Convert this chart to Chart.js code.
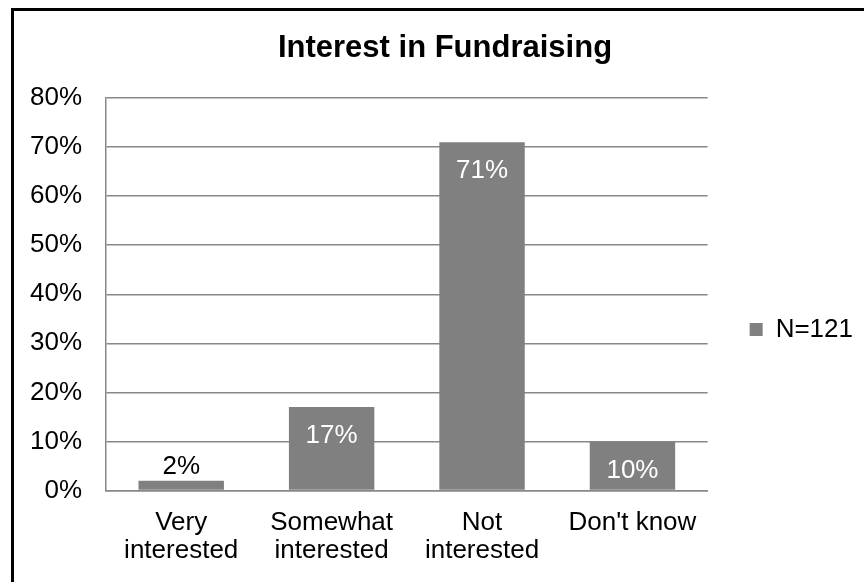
<!DOCTYPE html>
<html>
<head>
<meta charset="utf-8">
<script src="https://cdn.jsdelivr.net/npm/chart.js@4/dist/chart.umd.min.js"></script>
<style>
  html, body { margin: 0; padding: 0; background: #fff; }
  #wrap { position: relative; width: 864px; height: 582px; overflow: hidden; }
  #frame { position: absolute; left: 11px; top: 8px; width: 900px; height: 600px;
           border-top: 3px solid #000; border-left: 3px solid #000; pointer-events: none; }
</style>
</head>
<body>
<div id="wrap">
  <canvas id="chart" width="864" height="582"></canvas>
  <div id="frame"></div>
</div>
<script>
// categories (two lines each) and percentages
var categories = [['Very', 'interested'], ['Somewhat', 'interested'], ['Not', 'interested'], ["Don't know"]];
var percents = [2, 17, 71, 10];
var seriesName = 'N=121';
var yTicks = [0, 10, 20, 30, 40, 50, 60, 70, 80];

var gray = '#808080';
var gridGray = '#888888';
var font = '"Liberation Sans", Arial, sans-serif';

// value labels: white inside tall bars, black above short ones
var barLabels = {
  id: 'barLabels',
  afterDatasetsDraw: function(chart) {
    var ctx = chart.ctx;
    var meta = chart.getDatasetMeta(0);
    ctx.save();
    ctx.font = '26px ' + font;
    ctx.textAlign = 'center';
    ctx.textBaseline = 'middle';
    meta.data.forEach(function(bar, i) {
      var v = chart.data.datasets[0].data[i];
      if (v < 5) {
        ctx.fillStyle = '#000';
        ctx.fillText(v + '%', bar.x, bar.y - 14);
      } else {
        ctx.fillStyle = '#fff';
        ctx.fillText(v + '%', bar.x, bar.y + 29);
      }
    });
    ctx.restore();
  }
};

new Chart(document.getElementById('chart').getContext('2d'), {
  type: 'bar',
  data: {
    labels: categories,
    datasets: [{
      label: seriesName,
      data: percents,
      backgroundColor: gray,
      borderWidth: 0,
      barPercentage: 0.568,
      categoryPercentage: 1
    }]
  },
  options: {
    responsive: false,
    animation: false,
    layout: { padding: { top: 0, left: 27, right: 1, bottom: 0 } },
    plugins: {
      title: {
        display: true,
        text: 'Interest in Fundraising',
        color: '#000',
        font: { family: font, size: 31, weight: 'bold', lineHeight: 1.2 },
        padding: { top: 30, bottom: 30.8 }
      },
      legend: {
        position: 'right',
        title: { display: true, text: '', font: { size: 1, lineHeight: 1 }, padding: { top: 76, bottom: 0 } },
        labels: {
          color: '#000',
          font: { family: font, size: 26 },
          boxWidth: 13,
          boxHeight: 13,
          padding: 42
        }
      },
      tooltip: { enabled: false }
    },
    scales: {
      x: {
        grid: { display: false, drawTicks: false },
        border: { display: true, color: gridGray, width: 1.5 },
        ticks: { color: '#000', font: { family: font, size: 26, lineHeight: 1.08 }, padding: 18, maxRotation: 0 },
        afterFit: function(s) { s.height = 91.5; }
      },
      y: {
        min: 0,
        max: 80,
        afterBuildTicks: function(s) { s.ticks = yTicks.map(function(v) { return { value: v }; }); },
        grid: { color: gridGray, lineWidth: 1.5, drawTicks: false },
        border: { display: true, color: gridGray, width: 1.5 },
        ticks: {
          color: '#000',
          font: { family: font, size: 26 },
          padding: 24,
          callback: function(v) { return v + '%'; }
        },
        afterFit: function(s) { s.width = 79; }
      }
    }
  },
  plugins: [barLabels]
});
</script>
</body>
</html>
